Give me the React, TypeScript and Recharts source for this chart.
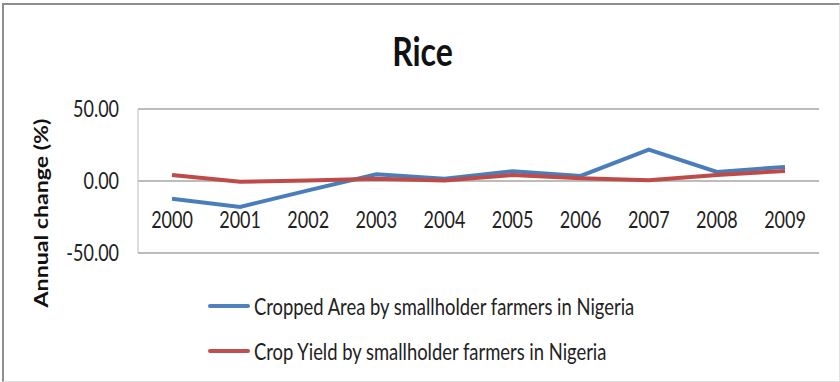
import React from "react";
import {
  LineChart,
  Line,
  XAxis,
  YAxis,
  CartesianGrid,
  Legend,
} from "recharts";

const years = ["2000", "2001", "2002", "2003", "2004", "2005", "2006", "2007", "2008", "2009"];
const croppedArea = [-12.3, -18, -6.5, 4.7, 1.6, 6.8, 3.5, 21.8, 6.3, 9.8];
const cropYield = [4.2, -0.5, 0.3, 1.6, 0.3, 4.2, 1.9, 0.5, 4.2, 7];
const yTicks = [-50, 0, 50];

const AREA_NAME = "Cropped Area by smallholder farmers in Nigeria";
const YIELD_NAME = "Crop Yield by smallholder farmers in Nigeria";

const data = years.map((year, i) => ({
  year,
  area: croppedArea[i],
  yield: cropYield[i],
}));

const FONT = "Lato, 'Open Sans', sans-serif";
// text in this chart is drawn slightly tall
const STRETCH = 1.25;

function XTick(props: any) {
  const { x, y, payload } = props;
  return (
    <text
      transform={`translate(${x} ${y - 33}) scale(1 ${STRETCH})`}
      textAnchor="middle"
      fontFamily={FONT}
      fontSize={18}
      fill="#222"
    >
      {payload.value}
    </text>
  );
}

function YTick(props: any) {
  const { x, y, payload } = props;
  return (
    <text
      transform={`translate(${x} ${y}) scale(1 ${STRETCH})`}
      y={6.3}
      textAnchor="end"
      fontFamily={FONT}
      fontSize={18}
      fill="#222"
    >
      {Number(payload.value).toFixed(2)}
    </text>
  );
}

function YLabel() {
  return (
    <text
      transform={`translate(48 213) rotate(-90) scale(${STRETCH} 1)`}
      textAnchor="middle"
      fontFamily={FONT}
      fontWeight={700}
      fontSize={18.5}
      fill="#111"
    >
      Annual change (%)
    </text>
  );
}

function LegendBox() {
  const rows = [
    { name: AREA_NAME, color: "#4F81BD" },
    { name: YIELD_NAME, color: "#C0504D" },
  ];
  return (
    <div style={{ fontFamily: FONT, fontSize: 18.4, color: "#222" }}>
      {rows.map((r) => (
        <div
          key={r.name}
          style={{ display: "flex", alignItems: "center", height: 45 }}
        >
          <span
            style={{
              display: "inline-block",
              width: 42,
              height: 4,
              background: r.color,
              borderRadius: 2,
              marginRight: 4,
            }}
          />
          <span style={{ display: "inline-block", transform: `scaleY(${STRETCH})` }}>
            {r.name}
          </span>
        </div>
      ))}
    </div>
  );
}

export default function App() {
  return (
    <div
      style={{
        position: "absolute",
        left: 0,
        top: 0,
        width: 840,
        height: 382,
        background: "#fff",
      }}
    >
      <div
        style={{
          position: "absolute",
          left: 2,
          top: 3,
          width: 835,
          height: 376,
          borderTop: "2px solid #8e8e8e",
          borderLeft: "2px solid #8e8e8e",
          borderRight: "1px solid #e0e0e0",
          borderBottom: "1px solid #e0e0e0",
        }}
      />
      <div
        style={{
          position: "absolute",
          left: 0,
          top: 31,
          width: 845,
          textAlign: "center",
          fontFamily: FONT,
          fontWeight: 700,
          fontSize: 32,
          color: "#111",
          transform: `scaleY(${STRETCH})`,
        }}
      >
        Rice
      </div>
      <LineChart
        width={840}
        height={382}
        data={data}
        margin={{ top: 109, right: 21, bottom: 99, left: 78 }}
        style={{ position: "absolute", left: 0, top: 0 }}
      >
        <CartesianGrid vertical={false} stroke="#a6a6a6" strokeWidth={1.5} />
        <XAxis
          dataKey="year"
          height={30}
          axisLine={false}
          tickLine={false}
          interval={0}
          padding={{ left: 34, right: 34 }}
          tick={<XTick />}
        />
        <YAxis
          width={60}
          domain={[-50, 50]}
          ticks={yTicks}
          axisLine={{ stroke: "#bdbdbd" }}
          tickLine={false}
          tickMargin={13}
          tick={<YTick />}
          label={{ content: () => <YLabel /> }}
        />
        <Legend
          layout="vertical"
          align="center"
          verticalAlign="middle"
          wrapperStyle={{ left: 208, top: 283, width: 480 }}
          content={() => <LegendBox />}
        />
        <Line
          dataKey="area"
          name={AREA_NAME}
          stroke="#4A7EBB"
          strokeWidth={4}
          dot={false}
          isAnimationActive={false}
        />
        <Line
          dataKey="yield"
          name={YIELD_NAME}
          stroke="#BE4B48"
          strokeWidth={4}
          dot={false}
          isAnimationActive={false}
        />
      </LineChart>
    </div>
  );
}
